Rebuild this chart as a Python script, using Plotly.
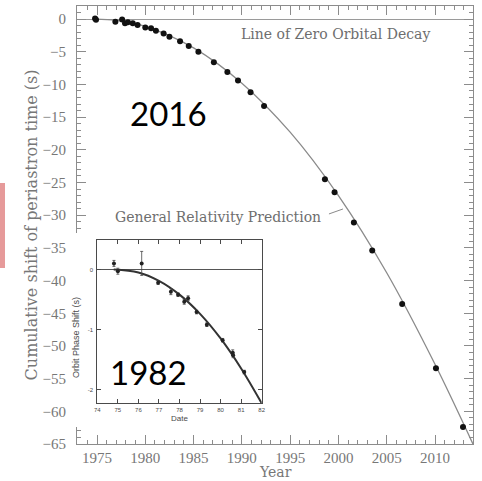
import plotly.graph_objects as go

# Timing measurements of the binary pulsar: cumulative periastron shift (s)
obs_year = [1974.8, 1974.9, 1976.9, 1977.6, 1977.9, 1978.2, 1978.7, 1979.2,
            1980.0, 1980.6, 1981.1, 1981.9, 1982.5, 1983.6, 1984.5, 1985.5,
            1987.1, 1988.5, 1989.6, 1990.9, 1992.3, 1998.6, 1999.6, 2001.6,
            2003.5, 2006.6, 2010.1, 2012.9]
obs_shift = [0.1, -0.1, -0.4, -0.05, -0.65, -0.5, -0.65, -0.9,
             -1.27, -1.4, -1.8, -2.2, -2.7, -3.4, -4.1, -5.0,
             -6.6, -8.1, -9.4, -11.2, -13.3, -24.5, -26.5, -31.1,
             -35.4, -43.6, -53.4, -62.4]

# General relativity prediction curve
gr_year = [1974.8, 1977, 1980, 1985, 1990, 1995, 2000, 2005, 2010, 2013.93]
gr_shift = [0.0, -0.2, -1.1, -4.4, -9.8, -17.3, -27.0, -38.8, -52.8, -65.0]

# Earlier (1982) result: orbit phase shift vs date
early_date = [74.81, 75.0, 76.16, 76.96, 77.58, 77.93, 78.23, 78.42,
              78.83, 79.33, 80.10, 80.59, 80.61, 81.15]
early_shift = [0.10, -0.03, 0.10, -0.22, -0.37, -0.42, -0.54, -0.48,
               -0.71, -0.92, -1.18, -1.39, -1.43, -1.71]
early_err = [0.05, 0.05, 0.2, 0.03, 0.05, 0.03, 0.04, 0.04,
             0.03, 0.03, 0.03, 0.05, 0.04, 0.03]
early_curve_date = [74.8, 76, 77, 78, 79, 80, 81, 82]
early_curve_shift = [0.0, -0.05, -0.19, -0.42, -0.74, -1.15, -1.65, -2.23]

main_x_ticks = [1975, 1980, 1985, 1990, 1995, 2000, 2005, 2010]
main_y_ticks = list(range(0, -70, -5))
inset_x_ticks = list(range(74, 83))
inset_y_ticks = [0, -1, -2]

W, H = 482, 481
ML, MR, MT, MB = 65, 9, 6, 37
PW, PH = W - ML - MR, H - MT - MB


def px_x(p):
    return (p - ML) / PW


def px_y(p):
    return (H - MB - p) / PH


FRAME = "#8c8c8c"
LABEL = "#777777"
INK = "#4a4a4a"

fig = go.Figure()

fig.add_trace(go.Scatter(
    x=gr_year, y=gr_shift, mode="lines", line=dict(color="#8a8a8a", width=1.3, shape="spline"),
    xaxis="x", yaxis="y", hoverinfo="skip", showlegend=False))
fig.add_trace(go.Scatter(
    x=obs_year, y=obs_shift, mode="markers", marker=dict(color="#111111", size=6),
    xaxis="x", yaxis="y", showlegend=False))

# empty panel that blanks the area behind the inset
fig.add_trace(go.Scatter(x=[], y=[], xaxis="x2", yaxis="y2", showlegend=False))

fig.add_trace(go.Scatter(
    x=early_curve_date, y=early_curve_shift, mode="lines",
    line=dict(color="#333333", width=2, shape="spline"),
    xaxis="x3", yaxis="y3", hoverinfo="skip", showlegend=False))
fig.add_trace(go.Scatter(
    x=early_date, y=early_shift, mode="markers",
    marker=dict(color="#222222", size=4),
    error_y=dict(type="data", array=early_err, color="#444444", thickness=0.8, width=1.5),
    xaxis="x3", yaxis="y3", showlegend=False))

tick_font = dict(family="Liberation Serif", size=15, color=LABEL)
small_font = dict(family="Liberation Sans", size=6, color=INK)

fig.update_layout(
    width=W, height=H,
    margin=dict(l=ML, r=MR, t=MT, b=MB, pad=0, autoexpand=False),
    paper_bgcolor="white", plot_bgcolor="white",
    xaxis=dict(
        domain=[px_x(77), 1], range=[1972.929, 2013.935], anchor="y", automargin=False,
        tickvals=main_x_ticks, ticktext=[str(v) for v in main_x_ticks],
        ticks="inside", ticklen=9, tickwidth=1, tickcolor=FRAME,
        minor=dict(dtick=1, ticks="inside", ticklen=4, tickcolor=FRAME, showgrid=False),
        showline=True, linecolor=FRAME, linewidth=1, mirror="ticks",
        showgrid=False, zeroline=False, tickfont=tick_font, ticklabelstandoff=0,
    ),
    yaxis=dict(
        domain=[0, 1], range=[-65, 2], anchor="x", automargin=False,
        tickvals=main_y_ticks, ticktext=[str(v).replace("-", "\u2212") for v in main_y_ticks],
        ticks="inside", ticklen=9, tickwidth=1, tickcolor=FRAME,
        minor=dict(dtick=1, ticks="inside", ticklen=4, tickcolor=FRAME, showgrid=False),
        showline=True, linecolor=FRAME, linewidth=1, mirror="ticks",
        showgrid=False, zeroline=True, zerolinecolor="#9a9a9a", zerolinewidth=1,
        tickfont=tick_font, ticklabelstandoff=7,
        title=dict(text="Cumulative shift of periastron time (s)",
                   font=dict(family="DejaVu Serif", size=16, color=LABEL), standoff=0),
    ),
    xaxis2=dict(
        domain=[px_x(71), px_x(265)], range=[0, 1], anchor="y2", automargin=False,
        showline=False, showticklabels=False, ticks="", showgrid=False, zeroline=False,
    ),
    yaxis2=dict(
        domain=[px_y(427), px_y(233)], range=[0, 1], anchor="x2", automargin=False,
        showline=False, showticklabels=False, ticks="", showgrid=False, zeroline=False,
    ),
    xaxis3=dict(
        domain=[px_x(97.3), px_x(261.7)], range=[74, 82], anchor="y3", automargin=False,
        tickvals=inset_x_ticks, ticktext=[str(v) for v in inset_x_ticks],
        ticks="inside", ticklen=4, tickwidth=1, tickcolor=INK,
        showline=True, linecolor=INK, linewidth=1, mirror="ticks",
        showgrid=False, zeroline=False, tickfont=small_font,
        title=dict(text="Date", font=dict(family="Liberation Sans", size=8, color=INK), standoff=3),
    ),
    yaxis3=dict(
        domain=[px_y(403.3), px_y(240)], range=[-2.23, 0.49], anchor="x3", automargin=False,
        tickvals=inset_y_ticks, ticktext=[str(v) for v in inset_y_ticks],
        ticks="inside", ticklen=4, tickwidth=1, tickcolor=INK,
        showline=True, linecolor=INK, linewidth=1, mirror="ticks",
        showgrid=False, zeroline=True, zerolinecolor="#555555", zerolinewidth=1,
        tickfont=small_font, ticklabelstandoff=2,
    ),
    showlegend=False,
)

serif_note = dict(family="DejaVu Serif", size=14, color="#6e6e6e")
big_label = dict(family="Lato", size=33, color="black")

fig.add_annotation(text="Year", x=px_x(275), y=px_y(481), xref="paper", yref="paper",
                   showarrow=False, font=dict(family="DejaVu Serif", size=14, color=LABEL),
                   xanchor="center", yanchor="bottom", borderpad=0)
fig.add_annotation(text="Line of Zero Orbital Decay", x=1999.74, y=-2.3, xref="x", yref="y",
                   showarrow=False, font=serif_note, xanchor="center", yanchor="middle")
fig.add_annotation(text="General Relativity Prediction", x=1987.53, y=-30.27, xref="x", yref="y",
                   showarrow=False, font=serif_note, xanchor="center", yanchor="middle")
fig.add_annotation(text="Orbit Phase Shift (s)", x=px_x(76), y=px_y(338), xref="paper", yref="paper",
                   showarrow=False, textangle=-90,
                   font=dict(family="Liberation Sans", size=9, color=INK),
                   xanchor="center", yanchor="middle")
fig.add_annotation(text="2016", x=px_x(168), y=px_y(113), xref="paper", yref="paper",
                   showarrow=False, font=big_label, xanchor="center", yanchor="middle")
fig.add_annotation(text="1982", x=px_x(148), y=px_y(372), xref="paper", yref="paper",
                   showarrow=False, font=big_label, xanchor="center", yanchor="middle")

# pointer from the prediction label to the curve
fig.add_shape(type="line", xref="x", yref="y", x0=1999.02, y0=-29.81, x1=2000.47, y1=-29.05,
              line=dict(color="#8a8a8a", width=1))
# pink marker bar on the left edge
fig.add_shape(type="rect", xref="paper", yref="paper",
              x0=px_x(0), x1=px_x(5), y0=px_y(268), y1=px_y(183),
              fillcolor="#e69a9a", line=dict(width=0), layer="above")

fig.write_html("out.html")
